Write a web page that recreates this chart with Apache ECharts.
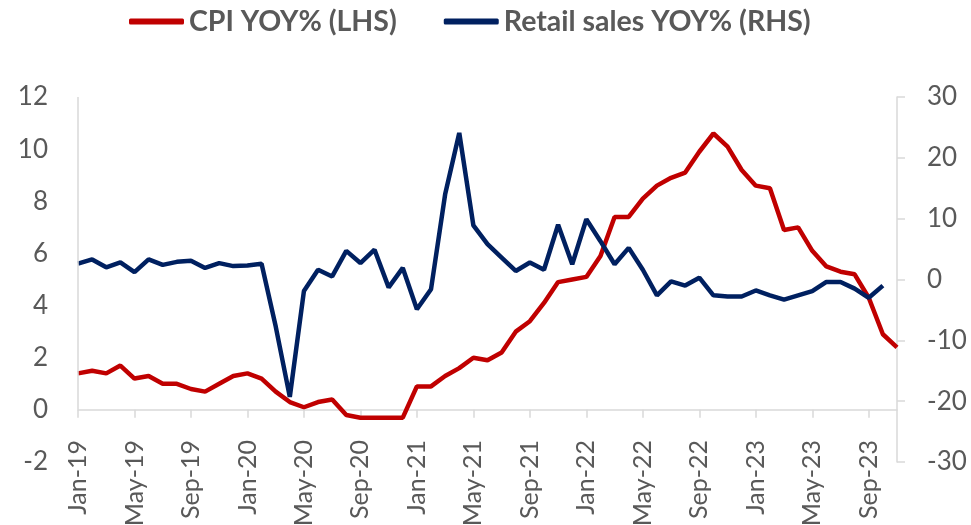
<!DOCTYPE html>
<html>
<head>
<meta charset="utf-8">
<script src="https://cdn.jsdelivr.net/npm/echarts@6/dist/echarts.min.js"></script>
<style>
  html, body { margin: 0; padding: 0; background: #ffffff; }
  #main { width: 971px; height: 525px; }
</style>
</head>
<body>
<div id="main"></div>
<script>
var months = [
  'Jan-19', 'Feb-19', 'Mar-19', 'Apr-19', 'May-19', 'Jun-19', 'Jul-19', 'Aug-19', 'Sep-19', 'Oct-19', 'Nov-19', 'Dec-19',
  'Jan-20', 'Feb-20', 'Mar-20', 'Apr-20', 'May-20', 'Jun-20', 'Jul-20', 'Aug-20', 'Sep-20', 'Oct-20', 'Nov-20', 'Dec-20',
  'Jan-21', 'Feb-21', 'Mar-21', 'Apr-21', 'May-21', 'Jun-21', 'Jul-21', 'Aug-21', 'Sep-21', 'Oct-21', 'Nov-21', 'Dec-21',
  'Jan-22', 'Feb-22', 'Mar-22', 'Apr-22', 'May-22', 'Jun-22', 'Jul-22', 'Aug-22', 'Sep-22', 'Oct-22', 'Nov-22', 'Dec-22',
  'Jan-23', 'Feb-23', 'Mar-23', 'Apr-23', 'May-23', 'Jun-23', 'Jul-23', 'Aug-23', 'Sep-23', 'Oct-23', 'Nov-23'
];

// CPI YOY% (left axis)
var cpi = [
  1.4, 1.5, 1.4, 1.7, 1.2, 1.3, 1.0, 1.0, 0.8, 0.7, 1.0, 1.3,
  1.4, 1.2, 0.7, 0.3, 0.1, 0.3, 0.4, -0.2, -0.3, -0.3, -0.3, -0.3,
  0.9, 0.9, 1.3, 1.6, 2.0, 1.9, 2.2, 3.0, 3.4, 4.1, 4.9, 5.0,
  5.1, 5.9, 7.4, 7.4, 8.1, 8.6, 8.9, 9.1, 9.9, 10.6, 10.1, 9.2,
  8.6, 8.5, 6.9, 7.0, 6.1, 5.5, 5.3, 5.2, 4.3, 2.9, 2.4
];

// Retail sales YOY% (right axis)
var retail = [
  2.6, 3.3, 2.0, 2.8, 1.2, 3.3, 2.4, 2.9, 3.1, 1.9, 2.7, 2.2,
  2.3, 2.6, -7.7, -19.3, -1.9, 1.6, 0.5, 4.7, 2.7, 4.9, -1.3, 1.9,
  -4.9, -1.6, 14.0, 24.1, 8.9, 5.8, 3.6, 1.4, 2.8, 1.6, 9.0, 2.5,
  9.9, 6.3, 2.5, 5.2, 1.6, -2.6, -0.3, -1.0, 0.3, -2.6, -2.8, -2.8,
  -1.8, -2.6, -3.3, -2.6, -1.9, -0.4, -0.4, -1.5, -3.0, -1.0
];

var leftTicks = { min: -2, max: 12, step: 2 };
var rightTicks = { min: -30, max: 30, step: 10 };

var chart = echarts.init(document.getElementById('main'));

var axisGrey = '#d9d9d9';
var labelGrey = '#595959';
var font = 'Lato, "Open Sans", sans-serif';
var valueLabel = { fontSize: 26, color: labelGrey, margin: 6, fontFamily: font };

var option = {
  backgroundColor: '#ffffff',
  color: ['#c00000', '#002060'],
  textStyle: { fontFamily: font },
  legend: {
    left: 124,
    top: 2,
    itemWidth: 55,
    itemHeight: 6,
    itemGap: 47,
    icon: 'roundRect',
    textStyle: { color: labelGrey, fontSize: 28.5, fontWeight: 'bold', fontFamily: font },
    data: ['CPI YOY% (LHS)', 'Retail sales YOY% (RHS)']
  },
  // grid 0: the plot; grids 1 and 2: thin strips that only carry the value labels
  grid: [
    { left: 78, right: 74, top: 97, bottom: 63, containLabel: false, outerBoundsMode: 'none' },
    { left: 44, width: 10, top: 97, bottom: 63, containLabel: false, outerBoundsMode: 'none' },
    { left: 911, width: 10, top: 97, bottom: 63, containLabel: false, outerBoundsMode: 'none' }
  ],
  xAxis: [
    {
      type: 'category',
      gridIndex: 0,
      data: months,
      boundaryGap: false,
      axisLine: { onZero: true, onZeroAxisIndex: 0, lineStyle: { color: axisGrey, width: 1.5 } },
      axisTick: { interval: 3, length: 8, lineStyle: { color: axisGrey, width: 1.5 } },
      axisLabel: {
        interval: 3,
        rotate: 90,
        margin: -22,
        fontSize: 25,
        color: labelGrey,
        fontFamily: font
      },
      splitLine: { show: false }
    },
    { type: 'value', gridIndex: 1, min: 0, max: 1, show: false },
    { type: 'value', gridIndex: 2, min: 0, max: 1, show: false }
  ],
  yAxis: [
    {
      type: 'value',
      gridIndex: 0,
      min: leftTicks.min,
      max: leftTicks.max,
      interval: leftTicks.step,
      axisLine: { show: false },
      axisTick: { show: false },
      splitLine: { show: false },
      axisLabel: { show: false }
    },
    {
      type: 'value',
      gridIndex: 0,
      position: 'right',
      min: rightTicks.min,
      max: rightTicks.max,
      interval: rightTicks.step,
      axisLine: { show: true, lineStyle: { color: axisGrey, width: 1.5 } },
      axisTick: { show: true, length: 8, lineStyle: { color: axisGrey, width: 1.5 } },
      splitLine: { show: false },
      axisLabel: { show: false }
    },
    {
      // left value labels
      type: 'value',
      gridIndex: 1,
      position: 'right',
      min: leftTicks.min,
      max: leftTicks.max,
      interval: leftTicks.step,
      axisLine: { show: false },
      axisTick: { show: false },
      splitLine: { show: false },
      axisLabel: { show: true, inside: true, margin: 6, fontSize: 26, color: labelGrey, fontFamily: font }
    },
    {
      // right value labels
      type: 'value',
      gridIndex: 2,
      position: 'right',
      min: rightTicks.min,
      max: rightTicks.max,
      interval: rightTicks.step,
      axisLine: { show: false },
      axisTick: { show: false },
      splitLine: { show: false },
      axisLabel: valueLabel
    }
  ],
  series: [
    {
      name: 'CPI YOY% (LHS)',
      type: 'line',
      xAxisIndex: 0,
      yAxisIndex: 0,
      data: cpi,
      symbol: 'none',
      lineStyle: { width: 4.5, color: '#c00000' },
      markLine: {
        silent: true,
        symbol: 'none',
        label: { show: false },
        lineStyle: { color: axisGrey, width: 1.5, type: 'solid' },
        data: [[{ coord: [months[0], 0] }, { coord: [months[0], leftTicks.max] }]]
      }
    },
    {
      name: 'Retail sales YOY% (RHS)',
      type: 'line',
      xAxisIndex: 0,
      yAxisIndex: 1,
      data: retail,
      symbol: 'none',
      lineStyle: { width: 4.5, color: '#002060' }
    }
  ]
};

chart.setOption(option);
</script>
</body>
</html>
